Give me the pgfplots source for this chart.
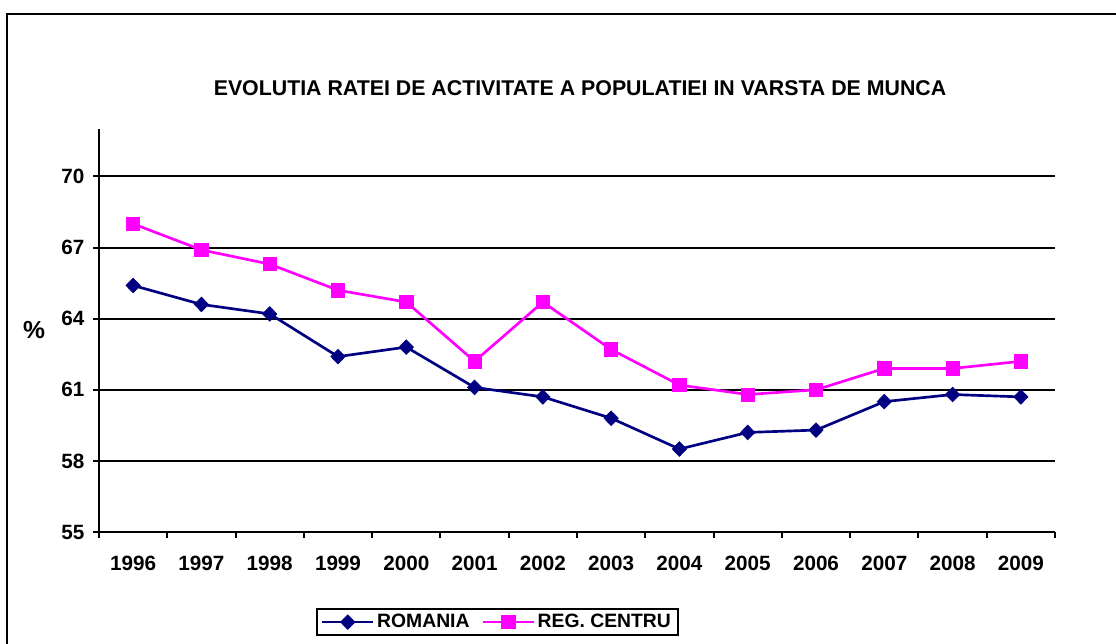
\documentclass[border=0pt]{standalone}
\usepackage{fontspec}
\setmainfont{Liberation Sans}
\usepackage{pgfplots}
\pgfplotsset{compat=1.18}
\definecolor{navy}{RGB}{0,0,128}
\definecolor{mag}{RGB}{255,0,255}
\begin{document}
\begin{tikzpicture}
\useasboundingbox (0,0) rectangle (837pt,-482.25pt);
\clip (0,0) rectangle (837pt,-482.25pt);
\draw[line width=2.2pt] (5.25pt,-500pt) -- (5.25pt,-10.5pt) -- (850pt,-10.5pt);
\node[font=\fontsize{16}{18}\selectfont\bfseries] at (435pt,-66pt) {EVOLUTIA RATEI DE ACTIVITATE A POPULATIEI IN VARSTA DE MUNCA};
\node[font=\fontsize{18.5}{20}\selectfont\bfseries] at (25.5pt,-247.5pt) {\%};
\begin{axis}[
  scale only axis,
  width=717pt, height=302.25pt,
  at={(74.25pt,-399pt)}, anchor=south west,
  xmin=-0.5, xmax=13.5, ymin=55, ymax=72,
  axis x line=bottom, axis y line=left,
  axis line style={-, line width=1.5pt, black},
  xtick={0,...,13},
  xticklabels={1996,1997,1998,1999,2000,2001,2002,2003,2004,2005,2006,2007,2008,2009},
  minor xtick={-0.5,0.5,...,13.5},
  ytick={55,58,61,64,67,70},
  ymajorgrids,
  grid style={black, line width=1.5pt},
  tick align=outside,
  x tick style={draw=none},
  minor x tick style={draw=black, line width=1.5pt},
  minor tick length=4.5pt,
  y tick style={black, line width=1.5pt},
  major tick length=4.5pt,
  ticklabel style={font=\fontsize{15.5}{17}\selectfont\bfseries},
  /pgf/number format/assume math mode=true,
  xticklabel style={yshift=-10pt},
  yticklabel style={xshift=-3pt},
  legend style={at={(0.227,-0.1886)}, anchor=north west, legend columns=2,
    draw=black, line width=1.5pt, font=\fontsize{14.5}{16}\selectfont\bfseries,
    /tikz/every even column/.append style={column sep=7pt}},
  legend image code/.code={\draw[mark repeat=2,mark phase=2,#1] plot coordinates {(0cm,0cm) (0.67cm,0cm) (1.34cm,0cm)};},
]
\addplot[navy, line width=2pt, mark=diamond*, mark size=5.5pt, mark options={xscale=1.3, line width=0.5pt, fill=navy}] coordinates {
(0,65.4) (1,64.6) (2,64.2) (3,62.4) (4,62.8) (5,61.1) (6,60.7) (7,59.8) (8,58.5) (9,59.2) (10,59.3) (11,60.5) (12,60.8) (13,60.7)};
\addlegendentry{ROMANIA}
\addplot[mag, line width=2pt, mark=square*, mark size=5pt, mark options={line width=0.5pt, fill=mag}] coordinates {
(0,68.0) (1,66.9) (2,66.3) (3,65.2) (4,64.7) (5,62.2) (6,64.7) (7,62.7) (8,61.2) (9,60.8) (10,61.0) (11,61.9) (12,61.9) (13,62.2)};
\addlegendentry{REG. CENTRU}
\end{axis}
\end{tikzpicture}
\end{document}
